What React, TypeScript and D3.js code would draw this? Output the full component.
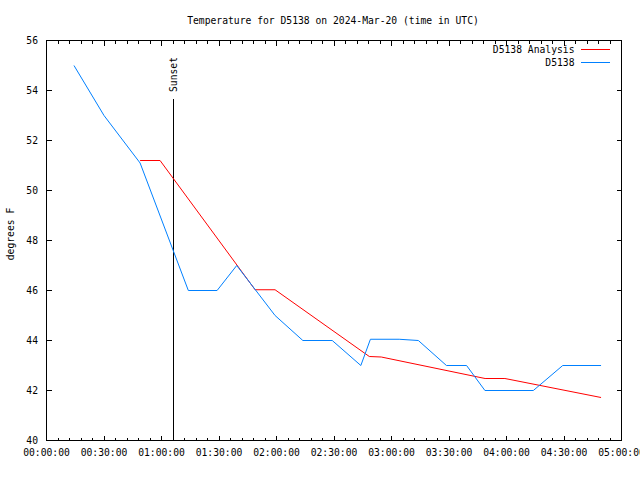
import React from "react";
import * as d3 from "d3";

const title = "Temperature for D5138 on 2024-Mar-20 (time in UTC)";
const yLabel = "degrees F";
const sunsetTime = "01:06:10";
const sunsetLabel = "Sunset";

const obsTimes = ["00:14:20", "00:30:00", "00:48:50", "01:14:00", "01:29:00", "01:39:15", "01:59:15", "02:13:45", "02:29:05", "02:44:00", "02:49:00", "03:04:00", "03:14:00", "03:28:40", "03:39:10", "03:48:45", "04:14:00", "04:29:20", "04:49:20"];
const obsTemps = [55, 53, 51.1, 46, 46, 47, 45, 44, 44, 43, 44.05, 44.05, 44, 43, 43, 42, 42, 43, 43];

const anaTimes = ["00:48:50", "00:59:15", "01:48:50", "01:59:15", "02:48:25", "02:54:40", "03:48:50", "03:59:10", "04:49:20"];
const anaTemps = [51.2, 51.2, 46.03, 46.03, 43.36, 43.34, 42.48, 42.48, 41.72];

const seriesNames = ["D5138 Analysis", "D5138"];
const seriesColors = ["#ff0000", "#0080ff"];

const yTicks = [40, 42, 44, 46, 48, 50, 52, 54, 56];

const FONT = "'DejaVu Sans Mono', monospace";
const FS = 9.7;

const toDate = (s: string) => new Date(`2024-03-20T${s}Z`);

export default function App() {
  const W = 640, H = 480;
  const x = d3.scaleUtc()
    .domain([toDate("00:00:00"), toDate("05:00:00")])
    .range([46.5, 621.5]);
  const y = d3.scaleLinear().domain([40, 56]).range([440.5, 40.5]);

  const line = d3.line<[Date, number]>().x(d => x(d[0])).y(d => y(d[1]));
  const obs = obsTimes.map((t, i) => [toDate(t), obsTemps[i]] as [Date, number]);
  const ana = anaTimes.map((t, i) => [toDate(t), anaTemps[i]] as [Date, number]);

  const majorX = x.ticks(d3.utcMinute.every(30)!);
  const minorX = x.ticks(d3.utcMinute.every(6)!);
  const fmt = d3.utcFormat("%H:%M:%S");

  const [x0, x1] = x.range();
  const [yb, yt] = y.range();
  const sx = Math.round(x(toDate(sunsetTime))) + 0.5;

  return (
    <svg width={W} height={H} style={{ position: "absolute", left: 0, top: 0, background: "#fff" }}
      fontFamily={FONT} fontSize={FS}>
      <rect x={0} y={0} width={W} height={H} fill="#fff" />
      <text x={333} y={23.5} textAnchor="middle">{title}</text>

      {/* y ticks */}
      {yTicks.map(v => (
        <g key={v}>
          <line x1={x0} x2={x0 + 5} y1={y(v)} y2={y(v)} stroke="#000" shapeRendering="crispEdges" />
          <line x1={x1} x2={x1 - 5} y1={y(v)} y2={y(v)} stroke="#000" shapeRendering="crispEdges" />
          <text x={38} y={y(v)} dy="0.35em" textAnchor="end">{v}</text>
        </g>
      ))}
      {/* x ticks */}
      {minorX.map((d, i) => (
        <g key={"m" + i}>
          <line x1={x(d)} x2={x(d)} y1={yb} y2={yb - 3} stroke="#000" shapeRendering="crispEdges" />
          <line x1={x(d)} x2={x(d)} y1={yt} y2={yt + 3} stroke="#000" shapeRendering="crispEdges" />
        </g>
      ))}
      {majorX.map((d, i) => (
        <g key={"M" + i}>
          <line x1={x(d)} x2={x(d)} y1={yb} y2={yb - 5} stroke="#000" shapeRendering="crispEdges" />
          <line x1={x(d)} x2={x(d)} y1={yt} y2={yt + 5} stroke="#000" shapeRendering="crispEdges" />
          <text x={x(d)} y={453} dy="0.35em" textAnchor="middle">{fmt(d)}</text>
        </g>
      ))}

      <text transform={`translate(13.5,234) rotate(-90)`} textAnchor="middle">{yLabel}</text>

      {/* sunset */}
      <line x1={sx} x2={sx} y1={yb} y2={98.5} stroke="#000" shapeRendering="crispEdges" />
      <text transform={`translate(${sx + 3.5},92) rotate(-90)`} textAnchor="start">{sunsetLabel}</text>

      {/* data */}
      <path d={line(ana) || ""} fill="none" stroke={seriesColors[0]} strokeWidth={1} />
      <path d={line(obs) || ""} fill="none" stroke={seriesColors[1]} strokeWidth={1} />

      {/* legend */}
      {seriesNames.map((n, i) => (
        <g key={n}>
          <text x={574.5} y={50 + i * 13} dy="0.35em" textAnchor="end">{n}</text>
          <line x1={581} x2={610} y1={49.5 + i * 13} y2={49.5 + i * 13} stroke={seriesColors[i]} shapeRendering="crispEdges" />
        </g>
      ))}

      {/* border */}
      <rect x={x0} y={yt} width={x1 - x0} height={yb - yt} fill="none" stroke="#000" shapeRendering="crispEdges" />
    </svg>
  );
}
